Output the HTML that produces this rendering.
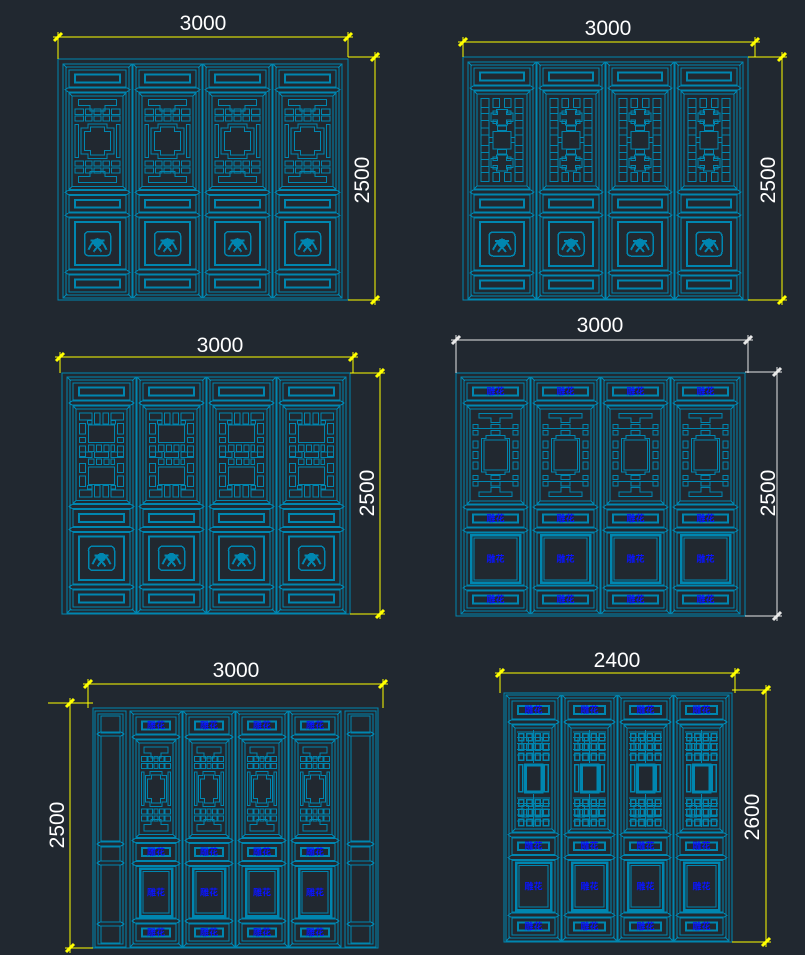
<!DOCTYPE html>
<html><head><meta charset="utf-8"><style>
html,body{margin:0;padding:0;background:#212830;}
svg{display:block}
.t{font-family:"Liberation Sans",sans-serif;font-size:21px;fill:#fff;}
.l{font-family:"Liberation Sans","Noto Sans CJK SC",sans-serif;font-size:9px;font-weight:bold;fill:#0a14ff;}
</style></head><body>
<svg id="s" xmlns="http://www.w3.org/2000/svg" width="805" height="955" viewBox="0 0 805 955">
<rect width="805" height="955" fill="#212830"/>
<g id="d" fill="none" stroke="#0086b0" stroke-width="1" shape-rendering="crispEdges"></g>
<g id="dim" fill="none" stroke-width="1" shape-rendering="crispEdges"></g>
<text class="t" x="203" y="30" text-anchor="middle">3000</text>
<text class="t" x="608" y="35" text-anchor="middle">3000</text>
<text class="t" x="220" y="352" text-anchor="middle">3000</text>
<text class="t" x="600" y="332" text-anchor="middle">3000</text>
<text class="t" x="236" y="677" text-anchor="middle">3000</text>
<text class="t" x="617" y="667" text-anchor="middle">2400</text>
<text class="t" transform="translate(369,180) rotate(-90)" text-anchor="middle">2500</text>
<text class="t" transform="translate(775,180) rotate(-90)" text-anchor="middle">2500</text>
<text class="t" transform="translate(374,493) rotate(-90)" text-anchor="middle">2500</text>
<text class="t" transform="translate(775,493) rotate(-90)" text-anchor="middle">2500</text>
<text class="t" transform="translate(64,825) rotate(-90)" text-anchor="middle">2500</text>
<text class="t" transform="translate(759,817) rotate(-90)" text-anchor="middle">2600</text>
<g id="lbl"></g>
</svg>
<script>
var NS="http://www.w3.org/2000/svg";
var G=document.getElementById('d'),D=document.getElementById('dim'),L=document.getElementById('lbl');
function el(p,n,a){var e=document.createElementNS(NS,n);for(var k in a)e.setAttribute(k,a[k]);p.appendChild(e);return e;}
function R(x,y,w,h,sw){el(G,'rect',{x:x,y:y,width:w,height:h,'stroke-width':sw||1});}
function Ln(x1,y1,x2,y2){el(G,'line',{x1:x1,y1:y1,x2:x2,y2:y2});}
function P(pts){el(G,'polygon',{points:pts.map(function(p){return p.join(',')}).join(' ')});}
function lab(cx,cy){var t=el(L,'text',{x:cx,y:cy+3,'text-anchor':'middle','class':'l'});t.textContent='雕花';}
function pat(t,x,y,w,h){
 function r(a,b,c,d,sw){R(x+a*w,y+b*h,(c-a)*w,(d-b)*h,sw);}
 function pp(arr){P(arr.map(function(q){return [x+q[0]*w,y+q[1]*h]}));}
 if(t=='A'){
  pp([[.1,.02],[.9,.02],[.9,.09],[.66,.09],[.66,.15],[.34,.15],[.34,.09],[.1,.09]]);
  pp([[.1,.98],[.9,.98],[.9,.91],[.66,.91],[.66,.85],[.34,.85],[.34,.91],[.1,.91]]);
  [[.13,.19],[.21,.27],[.73,.79],[.81,.87]].forEach(function(rw){
   [[.02,.2],[.24,.38],[.43,.57],[.62,.76],[.8,.98]].forEach(function(c){r(c[0],rw[0],c[1],rw[1]);});});
  pp([[.15,.35],[.3,.35],[.3,.3],[.7,.3],[.7,.35],[.85,.35],[.85,.65],[.7,.65],[.7,.7],[.3,.7],[.3,.65],[.15,.65]]);
  pp([[.22,.39],[.35,.39],[.35,.34],[.65,.34],[.65,.39],[.78,.39],[.78,.61],[.65,.61],[.65,.66],[.35,.66],[.35,.61],[.22,.61]]);
  r(.02,.31,.1,.69);r(.9,.31,.98,.69);
 } else if(t=='B'){
  var ys=[.03,.13,.2,.28,.36,.44,.56,.64,.72,.8,.87,.97];
  for(var i=0;i<ys.length-1;i++){r(.04,ys[i],.22,ys[i+1]);r(.78,ys[i],.96,ys[i+1]);}
  r(.3,.03,.45,.13);r(.55,.03,.7,.13);r(.3,.87,.45,.97);r(.55,.87,.7,.97);
  [[.15,.33],[.67,.85]].forEach(function(q){
   pp([[.38,q[0]],[.62,q[0]],[.62,q[0]+.04],[.74,q[0]+.04],[.74,q[1]-.04],[.62,q[1]-.04],[.62,q[1]],[.38,q[1]],[.38,q[1]-.04],[.26,q[1]-.04],[.26,q[0]+.04],[.38,q[0]+.04]]);
   r(.3,q[0]+.02,.4,q[0]+.06);r(.6,q[0]+.02,.7,q[0]+.06);r(.3,q[1]-.06,.4,q[1]-.02);r(.6,q[1]-.06,.7,q[1]-.02);});
  r(.3,.4,.7,.6);r(.22,.47,.3,.53);r(.7,.47,.78,.53);r(.4,.34,.6,.39);r(.4,.61,.6,.66);
 } else if(t=='D'){
  r(.03,.02,.3,.1);r(.35,.02,.47,.15);r(.53,.02,.65,.15);r(.7,.02,.97,.1);
  r(.03,.9,.3,.98);r(.35,.85,.47,.98);r(.53,.85,.65,.98);r(.7,.9,.97,.98);
  [[.14,.26],[.3,.36],[.4,.52],[.6,.7],[.74,.86]].forEach(function(q){r(.03,q[0],.16,q[1]);r(.84,q[0],.97,q[1]);});
  r(.22,.16,.78,.36);r(.22,.64,.78,.84);
  r(.2,.11,.3,.15);r(.7,.11,.8,.15);r(.2,.85,.3,.89);r(.7,.85,.8,.89);
  r(.22,.39,.34,.46);r(.39,.39,.5,.46);r(.55,.39,.66,.46);r(.7,.39,.78,.46);
  r(.03,.47,.3,.53);r(.35,.47,.65,.53);r(.7,.47,.97,.53);
  r(.22,.55,.34,.61);r(.39,.55,.5,.61);r(.55,.55,.66,.61);r(.7,.55,.78,.61);
 } else if(t=='C'){
  pp([[.15,.03],[.85,.03],[.85,.08],[.6,.08],[.6,.13],[.4,.13],[.4,.08],[.15,.08]]);
  pp([[.15,.97],[.85,.97],[.85,.92],[.6,.92],[.6,.87],[.4,.87],[.4,.92],[.15,.92]]);
  [[.15,.2],[.22,.27],[.73,.78],[.8,.85]].forEach(function(q){r(.02,q[0],.13,q[1]);r(.87,q[0],.98,q[1]);r(.4,q[0],.6,q[1]);});
  r(.02,.34,.13,.42);r(.87,.34,.98,.42);r(.02,.58,.13,.66);r(.87,.58,.98,.66);r(.02,.46,.13,.54);r(.87,.46,.98,.54);
  pp([[.3,.28],[.7,.28],[.7,.31],[.8,.31],[.8,.69],[.7,.69],[.7,.72],[.3,.72],[.3,.69],[.2,.69],[.2,.31],[.3,.31]]);
  pp([[.25,.33],[.75,.33],[.75,.67],[.25,.67]]);
  Ln(x+.13*w,y+.2*h,x+.4*w,y+.2*h);Ln(x+.6*w,y+.2*h,x+.87*w,y+.2*h);
  Ln(x+.13*w,y+.8*h,x+.4*w,y+.8*h);Ln(x+.6*w,y+.8*h,x+.87*w,y+.8*h);
 } else if(t=='E'){
  var cols=[.05,.3,.55,.8],rws=[.04,.14,.24,.72,.82,.92];
  rws.forEach(function(b){cols.forEach(function(a,i){r(a,b,a+.16,b+.07,1.5);});});
  r(.15,.08,.35,.2);r(.55,.08,.75,.2);r(.15,.78,.35,.9);r(.55,.78,.75,.9);
  for(var k=0;k<5;k++){Ln(x,y+(.02+k*.06)*h,x+w,y+(.02+k*.06)*h);Ln(x,y+(.7+k*.06)*h,x+w,y+(.7+k*.06)*h);}
  Ln(x+.5*w,y,x+.5*w,y+.34*h);Ln(x+.5*w,y+.66*h,x+.5*w,y+h);
  r(.25,.36,.75,.64,3);r(.05,.36,.18,.64,1.5);r(.82,.36,.95,.64,1.5);
 }
}
function blob(cx,cy){
 el(G,'rect',{x:cx-13,y:cy-12,width:26,height:24,rx:4,'stroke-width':1.5});
 el(G,'path',{d:'M'+(cx-9)+' '+(cy+6)+' q9 -20 18 0 M'+(cx-7)+' '+(cy-3)+' l14 0 M'+(cx-4)+' '+(cy+8)+' l8 -10 M'+(cx+4)+' '+(cy+8)+' l-8 -10','stroke-width':2});
 el(G,'circle',{cx:cx,cy:cy-1,r:4,fill:'#0086b0'});
}
var F=[.1,.45,.1,.25,.1];
function leaf(x,y,w,h,pt,bot,lb,F2){
 var f=F2||F;
 R(x,y,w,h);R(x+3,y+3,w-6,h-6);
 Ln(x,y,x+4,y+4);Ln(x+w,y,x+w-4,y+4);Ln(x,y+h,x+4,y+h-4);Ln(x+w,y+h,x+w-4,y+h-4);
 var yy=y+3,H=h-6;
 f.forEach(function(fr,i){
  var sh=H*fr;
  if(i>0){P([[x+2,yy],[x+5,yy-2],[x+w-5,yy-2],[x+w-2,yy],[x+w-5,yy+2],[x+5,yy+2]]);}
  R(x+6,yy+3,w-12,sh-6);
  if(i==0||i==2||i==4){R(x+12,yy+sh*.33,w-24,sh*.34,2);if(lb)lab(x+w/2,yy+sh/2);}
  else if(i==1){R(x+9,yy+6,w-18,sh-12);Ln(x+6,yy+3,x+9,yy+6);Ln(x+w-6,yy+3,x+w-9,yy+6);Ln(x+6,yy+sh-3,x+9,yy+sh-6);Ln(x+w-6,yy+sh-3,x+w-9,yy+sh-6);pat(pt,x+11,yy+8,w-22,sh-16);}
  else if(i==3){
   if(bot=='c'){R(x+12,yy+7,w-24,sh-14,2);blob(x+w/2,yy+sh/2);}
   else{R(x+10,yy+5,w-20,sh-10,2.5);R(x+13,yy+8,w-26,sh-16);if(lb)lab(x+w/2,yy+sh/2);}
  }
  yy+=sh;
 });
}
function drawing(fx,fy,fw,fh,lx,lw,ly,lh,n,gap,pt,bot,lb,F2){
 R(fx,fy,fw,fh);
 for(var i=0;i<n;i++)leaf(lx+i*(lw+gap),ly,lw,lh,pt,bot,lb,F2);
}
drawing(58,59,290,241,63,69,64,234,4,1,'A','c',false);
drawing(463,57,285,243,468,68,62,237,4,1,'B','c',false);
drawing(62,373,288,241,67,69,377,236,4,1,'D','c',false);
drawing(456,373,289,243,461,69,377,237,4,1,'C','b',true);
drawing(93,708,285,240,130,52,711,236,4,1,'A','b',true);
drawing(504,693,228,249,506,55,695,246,4,1,'E','b',true,[.1,.47,.095,.24,.095]);
[95,345].forEach(function(x){
 var w=31,y=711,h=236;R(x,y,w,h);R(x+3,y+3,w-6,h-6);
 [[716,733],[736,841],[847,861],[865,922],[926,943]].forEach(function(s,i){R(x+6,s[0],w-12,s[1]-s[0]);});
 [734,844,863,924].forEach(function(yy){P([[x+2,yy],[x+5,yy-2],[x+w-5,yy-2],[x+w-2,yy],[x+w-5,yy+2],[x+5,yy+2]]);});
});
function L2(x1,y1,x2,y2,c){el(D,'line',{x1:x1,y1:y1,x2:x2,y2:y2,stroke:c});}
function tick(x,y,c){el(D,'line',{x1:x-4,y1:y+4,x2:x+4,y2:y-4,stroke:c,'stroke-width':3,'shape-rendering':'auto'});}
function hdim(x1,x2,y,e1,e2,c){L2(x1-5,y,x2+5,y,c);L2(x1,y-5,x1,e1,c);L2(x2,y-5,x2,e2,c);tick(x1,y,c);tick(x2,y,c);}
function vdim(x,y1,y2,e1,e2,c){L2(x,y1-5,x,y2+5,c);L2(e1,y1,x+5,y1,c);L2(e2,y2,x+5,y2,c);tick(x,y1,c);tick(x,y2,c);}
var Y='#ffff00',W='#e8e8e8';
hdim(58,348,37,59,57,Y);vdim(375,57,300,348,348,Y);
hdim(463,755,42,57,57,Y);vdim(782,57,300,748,748,Y);
hdim(60,353,357,373,373,Y);vdim(380,373,614,350,350,Y);
hdim(456,748,340,373,373,W);vdim(777,372,616,745,745,W);
hdim(88,383,684,708,708,Y);
L2(70,698,70,953,Y);L2(48,703,93,703,Y);L2(65,948,93,948,Y);tick(70,703,Y);tick(70,948,Y);
hdim(500,735,673,693,693,Y);vdim(766,690,942,732,732,Y);
</script>
</body></html>
